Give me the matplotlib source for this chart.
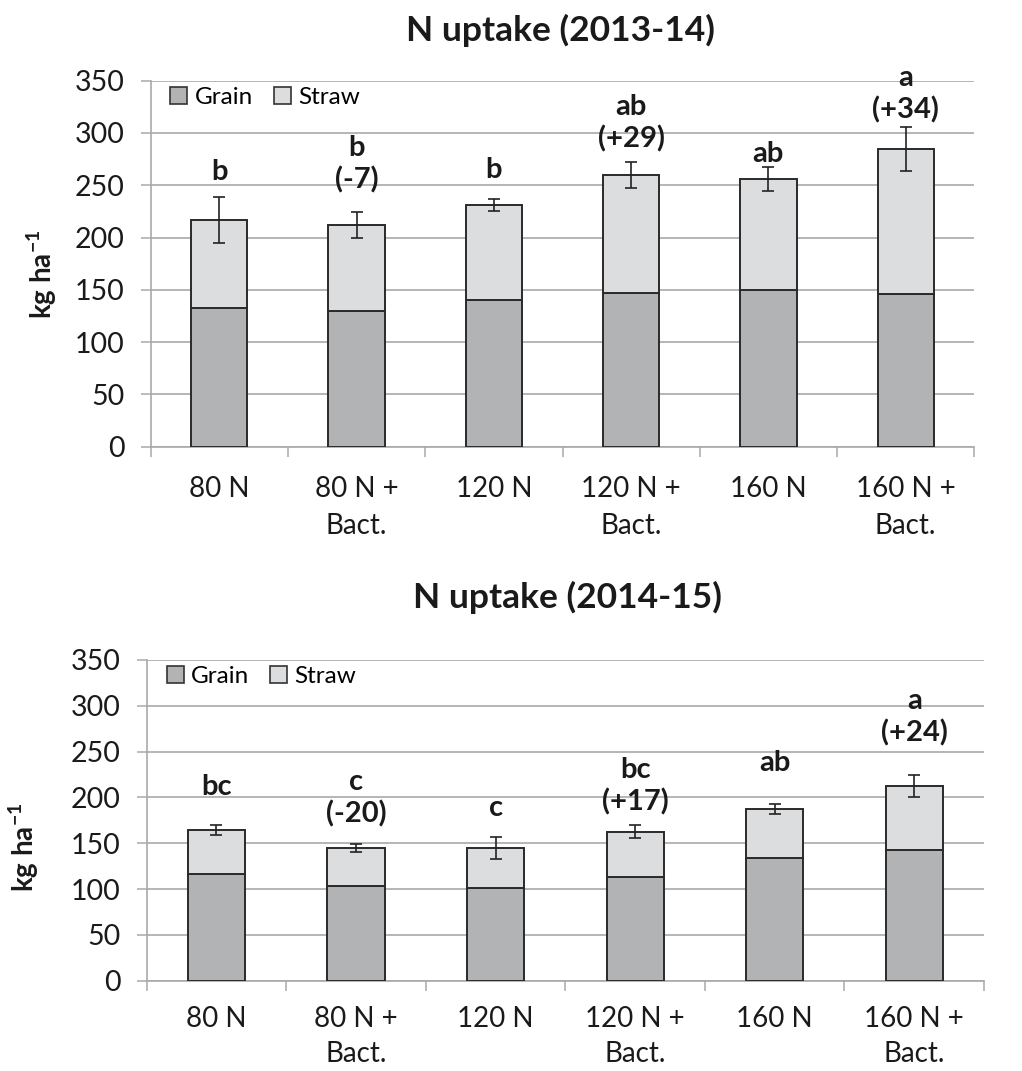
import matplotlib
matplotlib.use("Agg")
import matplotlib.pyplot as plt
import numpy as np
from matplotlib.patches import Patch

plt.rcParams["font.family"] = ["Lato", "DejaVu Sans"]
plt.rcParams["mathtext.fontset"] = "custom"
plt.rcParams["mathtext.rm"] = "Lato:bold"
plt.rcParams["mathtext.bf"] = "Lato:bold"

# Treatments (x categories)
treatments = ["80 N", "80 N +\nBact.", "120 N", "120 N +\nBact.", "160 N", "160 N +\nBact."]

# 2013-14 season: grain N, total (grain + straw) N, error of total, significance letters
grain_1314 = [133, 130, 140, 147, 150, 146]
total_1314 = [217, 212, 231, 260, 256, 285]
err_1314 = [22, 12.7, 5.7, 12.5, 11.7, 21]
letters_1314 = ["b", "b\n(-7)", "b", "ab\n(+29)", "ab", "a\n(+34)"]

# 2014-15 season
grain_1415 = [116, 103, 101, 113, 134, 143]
total_1415 = [164.5, 145, 145, 162.5, 187.5, 212.5]
err_1415 = [5.5, 4.6, 12.3, 7, 5.5, 11.6]
letters_1415 = ["bc", "c\n(-20)", "c", "bc\n(+17)", "ab", "a\n(+24)"]

# vertical placement of the letter annotations (data units)
label_y_1314 = [263, 270, 264.5, 309, 279.5, 337]
label_y_1415 = [211.7, 199, 188, 212.5, 238, 287.2]

GRAIN_C = "#b2b3b5"
STRAW_C = "#dcdddf"
EDGE_C = "#2a2a2a"
GRID_C = "#a9a9a9"

W, H = 1022, 1071
fig = plt.figure(figsize=(W / 100, H / 100), dpi=100)


def px_axes(left, top, right, bottom):
    return fig.add_axes([left / W, 1 - bottom / H, (right - left) / W, (bottom - top) / H])


def draw_panel(ax, grain, total, err, letters, label_y, title, title_xy, ylab_xy,
               xpad=21, xspacing=1.55):
    x = np.arange(len(treatments))
    grain = np.asarray(grain, float)
    total = np.asarray(total, float)
    straw = total - grain
    width = 0.41
    ax.bar(x, grain, width, color=GRAIN_C, edgecolor=EDGE_C, linewidth=1.4, zorder=3, label="Grain")
    ax.bar(x, straw, width, bottom=grain, color=STRAW_C, edgecolor=EDGE_C, linewidth=1.4,
           zorder=3, label="Straw")
    ax.errorbar(x, total, yerr=err, fmt="none", ecolor="#222222", elinewidth=1.2,
                capsize=4.5, capthick=1.2, zorder=4)

    for xi, txt, yy in zip(x, letters, label_y):
        ax.text(xi, yy, txt, ha="center", va="center", fontsize=21, fontweight="bold",
                color="#1a1a1a", linespacing=1.25, clip_on=False, zorder=5)

    ax.set_xlim(-0.5, len(treatments) - 0.5)
    ax.set_ylim(0, 350)
    ax.set_yticks(np.arange(0, 351, 50))
    ax.set_xticks(x)
    ax.set_xticklabels(treatments, fontsize=20, color="#1a1a1a", linespacing=xspacing)
    ax.set_xticks(np.arange(-0.5, len(treatments)), minor=True)
    ax.tick_params(axis="x", which="major", length=0, pad=xpad)
    ax.tick_params(axis="x", which="minor", length=7, width=1.1, color=GRID_C, direction="out")
    ax.tick_params(axis="y", length=7, width=1.1, color=GRID_C, labelsize=20.5,
                   labelcolor="#1a1a1a", pad=12)
    ax.grid(axis="y", color=GRID_C, linewidth=1.2, zorder=0)
    ax.set_axisbelow(True)
    for s in ("top", "right"):
        ax.spines[s].set_visible(False)
    for s in ("left", "bottom"):
        ax.spines[s].set_color(GRID_C)
        ax.spines[s].set_linewidth(1.2)

    handles = [Patch(facecolor=GRAIN_C, edgecolor="#333333", linewidth=1.2, label="Grain"),
               Patch(facecolor=STRAW_C, edgecolor="#333333", linewidth=1.2, label="Straw")]
    ax.legend(handles=handles, loc="upper left", bbox_to_anchor=(0.018, 0.995), ncol=2,
              frameon=False, fontsize=17.5, handlelength=0.7, handleheight=0.7,
              handletextpad=0.3, columnspacing=0.85, borderaxespad=0, borderpad=0.2)

    fig.text(title_xy[0] / W, 1 - title_xy[1] / H, title, ha="center", va="center",
             fontsize=25.5, fontweight="bold", color="#1a1a1a")
    fig.text(ylab_xy[0] / W, 1 - ylab_xy[1] / H, r"kg ha$^{-1}$", rotation=90,
             ha="center", va="center", fontsize=20, fontweight="bold", color="#1a1a1a")


ax1 = px_axes(150.7, 80.7, 974.3, 446.7)
draw_panel(ax1, grain_1314, total_1314, err_1314, letters_1314, label_y_1314,
           "N uptake (2013-14)", (560, 30), (42, 274))

ax2 = px_axes(146.7, 660, 984, 980.7)
draw_panel(ax2, grain_1415, total_1415, err_1415, letters_1415, label_y_1415,
           "N uptake (2014-15)", (567, 597), (24, 847), xpad=18, xspacing=1.42)

fig.savefig("out.png", dpi=100)
